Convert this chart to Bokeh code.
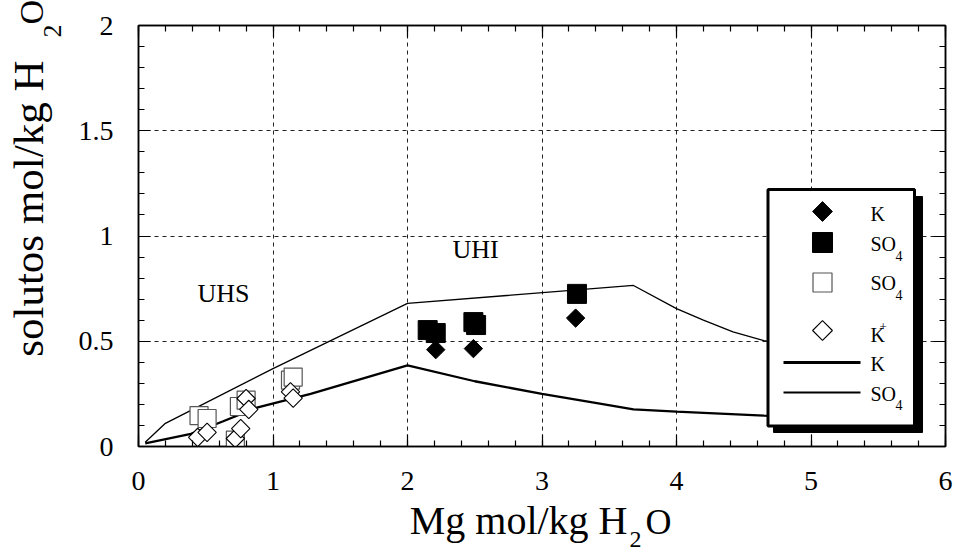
import numpy as np
from bokeh.plotting import figure
from bokeh.models import Range1d, FixedTicker, LinearAxis, CustomJSTickFormatter
from bokeh.core.properties import value
from bokeh.embed import file_html
from bokeh.resources import INLINE

# ---- measured compositions (Mg vs solute, mol/kg H2O) ----
k_mg = [2.21, 2.49, 3.25]
k_val = [0.46, 0.465, 0.61]

so4_mg = [2.15, 2.21, 2.49, 2.51, 3.26]
so4_val = [0.553, 0.539, 0.591, 0.577, 0.725]

so4_open_mg = [0.45, 0.51, 0.72, 0.75, 0.80, 1.13, 1.15]
so4_open_val = [0.147, 0.133, 0.03, 0.19, 0.22, 0.315, 0.33]

kplus_mg = [0.44, 0.51, 0.72, 0.76, 0.80, 0.82, 1.13, 1.15]
kplus_val = [0.043, 0.067, 0.038, 0.085, 0.228, 0.176, 0.26, 0.23]

# ---- model curves ----
line_k_mg = [0.05, 0.39, 0.63, 0.88, 1.28, 2.0, 2.5, 3.0, 3.43, 3.68, 4.0, 4.65, 5.0]
line_k_val = [0.015, 0.06, 0.12, 0.185, 0.25, 0.385, 0.31, 0.25, 0.204, 0.176, 0.166, 0.147, 0.14]

line_so4_mg = [0.05, 0.2, 1.0, 2.0, 3.68, 4.0, 4.2, 4.42, 4.65, 5.0]
line_so4_val = [0.02, 0.11, 0.37, 0.68, 0.765, 0.655, 0.6, 0.545, 0.503, 0.46]

x_ticks = [0, 1, 2, 3, 4, 5, 6]
x_tick_labels = ["0", "1", "2", "3", "4", "5", "6"]
y_ticks = [0, 0.5, 1, 1.5, 2]
y_tick_labels = ["0", "0.5", "1", "1.5", "2"]

FONT = "Liberation Serif"

# frame geometry (pixels) used to place annotations
FL, FR, FT, FB = 138, 945, 25, 446
W, H = 955, 555
SX = (FR - FL) / 6.0
SY = (FB - FT) / 2.0
BASE_SHIFT = 0.4  # text anchor sits this many em above the drawn baseline


def dx(px):
    return (px - FL) / SX


def dy(py):
    return (FB - py) / SY


p = figure(width=W, height=H, x_range=Range1d(0, 6), y_range=Range1d(0, 2),
           output_backend="svg", toolbar_location=None,
           min_border_left=FL, min_border_right=W - FR,
           min_border_top=FT, min_border_bottom=H - FB)
p.background_fill_color = "white"
p.border_fill_color = "white"
p.outline_line_color = "black"
p.outline_line_width = 1.5

x_minor = [round(v, 2) for v in np.arange(0, 6.001, 0.2)]
y_minor = [round(v, 2) for v in np.arange(0, 2.001, 0.1)]
xt = FixedTicker(ticks=x_ticks, minor_ticks=x_minor)
yt = FixedTicker(ticks=y_ticks, minor_ticks=y_minor)


def style_axis(ax):
    ax.axis_line_color = "black"
    ax.axis_line_width = 1.5
    ax.major_tick_in = 12
    ax.major_tick_out = 0
    ax.minor_tick_in = 6
    ax.minor_tick_out = 0
    ax.major_tick_line_color = "black"
    ax.minor_tick_line_color = "black"
    ax.major_tick_line_width = 1.2
    ax.minor_tick_line_width = 1.2
    ax.major_label_text_font = FONT
    ax.major_label_text_font_size = "28px"
    ax.major_label_text_color = "black"


xa = p.xaxis[0]
xa.ticker = xt
xa.major_label_overrides = {t: s for t, s in zip(x_ticks, x_tick_labels)}
xa.major_label_standoff = 25
style_axis(xa)

ya = p.yaxis[0]
ya.ticker = yt
ya.major_label_overrides = {t: s for t, s in zip(y_ticks, y_tick_labels)}
ya.major_label_standoff = 25
style_axis(ya)

blank = "return ''"
top = LinearAxis(ticker=xt, formatter=CustomJSTickFormatter(code=blank))
right = LinearAxis(ticker=yt, formatter=CustomJSTickFormatter(code=blank))
for ax in (top, right):
    style_axis(ax)
    ax.major_label_text_font_size = "6px"
    ax.major_label_standoff = 0
p.add_layout(top, "above")
p.add_layout(right, "right")

p.xgrid.ticker = FixedTicker(ticks=[1, 2, 3, 4, 5])
p.ygrid.ticker = FixedTicker(ticks=[0.5, 1, 1.5])
for g in (p.xgrid[0], p.ygrid[0]):
    g.grid_line_color = "#222222"
    g.grid_line_width = 1
    g.grid_line_dash = "4 4"

# model curves
p.line(line_so4_mg, line_so4_val, line_color="black", line_width=1.3)
p.line(line_k_mg, line_k_val, line_color="black", line_width=2.3)

# data points
p.scatter(so4_open_mg, so4_open_val, marker="square", size=18,
          fill_color="white", line_color="#555555", line_width=1.2)
p.scatter(kplus_mg, kplus_val, marker="square", angle=np.pi / 4, size=13,
          fill_color="white", line_color="black", line_width=1.1)
p.scatter(k_mg, k_val, marker="square", angle=np.pi / 4, size=13,
          fill_color="black", line_color="black")
p.scatter(so4_mg, so4_val, marker="square", size=19,
          fill_color="black", line_color="black")


def put_text(text, px, py, size, align="left", vertical=False):
    """Place text by its baseline position in frame pixels."""
    shift = BASE_SHIFT * size
    if vertical:
        x, y, ang = dx(px - shift), dy(py), np.pi / 2
    else:
        x, y, ang = dx(px), dy(py - shift), 0.0
    p.text(x=[x], y=[y], text=[text], text_font=value(FONT),
           text_font_size=value(f"{size}px"), text_color="black",
           text_align=align, text_baseline="alphabetic", angle=ang,
           level="overlay")


# region labels
put_text("UHS", 197, 303, 26)
put_text("UHI", 452, 259, 26)

# ---- legend box with drop shadow ----
p.quad(left=[dx(773)], right=[dx(922)], top=[dy(196)], bottom=[dy(432)],
       fill_color="black", line_color="black")
p.quad(left=[dx(767.5)], right=[dx(914)], top=[dy(189)], bottom=[dy(425.5)],
       fill_color="white", line_color="black", line_width=3)

LX = 822
p.scatter([dx(LX)], [dy(211)], marker="square", angle=np.pi / 4, size=14,
          fill_color="black", line_color="black")
p.scatter([dx(LX)], [dy(242)], marker="square", size=20,
          fill_color="black", line_color="black")
p.scatter([dx(LX)], [dy(282)], marker="square", size=19,
          fill_color="white", line_color="#555555", line_width=1.2)
p.scatter([dx(LX)], [dy(330)], marker="square", angle=np.pi / 4, size=14,
          fill_color="white", line_color="black", line_width=1.1)
p.line([dx(783), dx(860)], [dy(362), dy(362)], line_color="black", line_width=3)
p.line([dx(783), dx(860)], [dy(392), dy(392)], line_color="black", line_width=1.8)

TX = 870
put_text("K", TX, 221, 20)
put_text("SO", TX, 251, 20)
put_text("4", 895, 261, 14)
put_text("SO", TX, 290, 20)
put_text("4", 895, 300, 14)
put_text("K", TX, 342, 20)
put_text("+", 879, 332, 13)
put_text("K", TX, 371, 20)
put_text("SO", TX, 401, 20)
put_text("4", 895, 410, 14)

# ---- axis titles with subscripts ----
put_text("Mg mol/kg H", 627, 536, 40, align="right")
put_text("2", 629, 549, 24)
put_text("O", 645, 536, 36)

put_text("solutos mol/kg H", 45, 60, 43, align="right", vertical=True)
put_text("2", 62, 37, 26, vertical=True)
put_text("O", 45, 24, 34, vertical=True)

open("out.html", "w").write(file_html(p, INLINE))
